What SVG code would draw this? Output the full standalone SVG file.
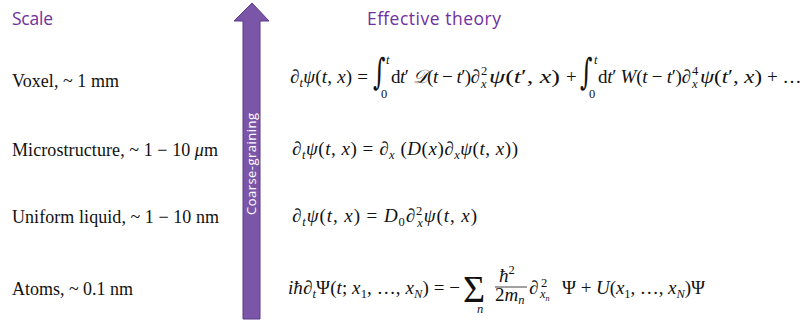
<svg xmlns="http://www.w3.org/2000/svg" width="807" height="323" viewBox="0 0 807 323">
<style>
.head{font-family:"Open Sans","Liberation Sans",sans-serif;font-size:17.5px;fill:#7030a0}
.lab{font-family:"Liberation Serif","DejaVu Serif",serif;font-size:18px;fill:#111}
.eq{font-family:"Liberation Serif","DejaVu Serif",serif;font-size:19px;fill:#111}
.i{font-style:italic}
.s{font-size:12.5px}
.int{font-family:"DejaVu Serif","Liberation Serif",serif;font-size:24px;fill:#111}
.sum{font-family:"Liberation Serif","DejaVu Serif",serif;font-size:38px;fill:#111}
.arrowtxt{font-family:"Open Sans","Liberation Sans",sans-serif;font-size:13px;fill:#fff}
</style>
<rect width="807" height="323" fill="#fff"/>
<g id="heading-scale"><text class="head" x="12" y="25" textLength="41">Scale</text></g>
<g id="heading-theory"><text class="head" x="367" y="25" textLength="134">Effective theory</text></g>
<g id="arrow">
<polygon points="252,3 269,21 260,21 260,319 243,319 243,21 234,21" fill="#7b55a8" stroke="#5b3a8a" stroke-width="1"/>
<text class="arrowtxt" transform="translate(256,164) rotate(-90)" text-anchor="middle" textLength="102">Coarse-graining</text>
</g>
<g id="scale-voxel"><text class="lab" x="12" y="87" textLength="107">Voxel, ~ 1 mm</text></g>
<g id="scale-micro"><text class="lab" x="12" y="156" textLength="206">Microstructure, ~ 1 − 10 <tspan class="i">μ</tspan>m</text></g>
<g id="scale-liquid"><text class="lab" x="12" y="223" textLength="207">Uniform liquid, ~ 1 − 10 nm</text></g>
<g id="scale-atoms"><text class="lab" x="12" y="295" textLength="121">Atoms, ~ 0.1 nm</text></g>
<g id="eq-voxel">
<text class="eq" x="290" y="83" textLength="78"><tspan class="i">∂</tspan><tspan class="s i" y="87">t</tspan><tspan class="i" y="83">ψ</tspan>(<tspan class="i">t</tspan>, <tspan class="i">x</tspan>) =</text>
<text class="int" transform="translate(373,84) scale(1,1.5)">∫</text>
<text class="eq s i" x="386" y="64">t</text>
<text class="eq s" x="381" y="98">0</text>
<text class="eq" x="391" y="83" textLength="89">d<tspan class="i">t</tspan>′ <tspan class="i">𝒟</tspan>(<tspan class="i">t</tspan> − <tspan class="i">t</tspan>′)<tspan class="i">∂</tspan></text>
<text class="eq s" x="481" y="75">2</text>
<text class="eq s i" x="481" y="88">x</text>
<text class="eq" x="489" y="83" textLength="71" lengthAdjust="spacingAndGlyphs"><tspan class="i">ψ</tspan>(<tspan class="i">t</tspan>′, <tspan class="i">x</tspan>)</text>
<text class="eq" x="566" y="83">+</text>
<text class="int" transform="translate(580,84) scale(1,1.5)">∫</text>
<text class="eq s i" x="594" y="64">t</text>
<text class="eq s" x="589" y="98">0</text>
<text class="eq" x="598" y="83" textLength="93">d<tspan class="i">t</tspan>′ <tspan class="i">W</tspan>(<tspan class="i">t</tspan> − <tspan class="i">t</tspan>′)<tspan class="i">∂</tspan></text>
<text class="eq s" x="692" y="75">4</text>
<text class="eq s i" x="692" y="88">x</text>
<text class="eq" x="700" y="83" textLength="62" lengthAdjust="spacingAndGlyphs"><tspan class="i">ψ</tspan>(<tspan class="i">t</tspan>′, <tspan class="i">x</tspan>)</text>
<text class="eq" x="767" y="83">+ …</text>
</g>
<g id="eq-micro">
<text class="eq" x="292" y="155" textLength="226"><tspan class="i">∂</tspan><tspan class="s i" y="159">t</tspan><tspan class="i" y="155">ψ</tspan>(<tspan class="i">t</tspan>, <tspan class="i">x</tspan>) = <tspan class="i">∂</tspan><tspan class="s i" y="159">x</tspan><tspan y="155"> (</tspan><tspan class="i">D</tspan>(<tspan class="i">x</tspan>)<tspan class="i">∂</tspan><tspan class="s i" y="159">x</tspan><tspan class="i" y="155">ψ</tspan>(<tspan class="i">t</tspan>, <tspan class="i">x</tspan>))</text>
</g>
<g id="eq-liquid">
<text class="eq" x="292" y="222" textLength="185"><tspan class="i">∂</tspan><tspan class="s i" y="226">t</tspan><tspan class="i" y="222">ψ</tspan>(<tspan class="i">t</tspan>, <tspan class="i">x</tspan>) = <tspan class="i">D</tspan><tspan class="s" y="226">0</tspan><tspan class="i" y="222">∂</tspan><tspan class="s" y="215">2</tspan><tspan class="s i" dx="-6" y="227">x</tspan><tspan class="i" y="222">ψ</tspan>(<tspan class="i">t</tspan>, <tspan class="i">x</tspan>)</text>
</g>
<g id="eq-atoms">
<text class="eq" x="288" y="294" textLength="172"><tspan class="i">iħ∂</tspan><tspan class="s i" y="298">t</tspan><tspan y="294">Ψ(</tspan><tspan class="i">t</tspan>; <tspan class="i">x</tspan><tspan class="s" y="298">1</tspan><tspan y="294">, …, </tspan><tspan class="i">x</tspan><tspan class="s i" y="298">N</tspan><tspan y="294">) = −</tspan></text>
<text class="sum" x="463" y="302">Σ</text>
<text class="eq s i" x="477" y="313">n</text>
<text class="eq" x="499" y="282"><tspan class="i">ħ</tspan><tspan class="s" y="274">2</tspan></text>
<line x1="495" y1="287" x2="527" y2="287" stroke="#111" stroke-width="0.8"/>
<text class="eq" x="495" y="301">2<tspan class="i">m</tspan><tspan class="s i" y="304">n</tspan></text>
<text class="eq" x="529" y="294"><tspan class="i">∂</tspan></text>
<text class="eq s" x="541" y="287">2</text>
<text class="eq s i" x="540" y="298">x<tspan style="font-size:8px" y="301">n</tspan></text>
<text class="eq" x="562" y="294" textLength="143">Ψ + <tspan class="i">U</tspan>(<tspan class="i">x</tspan><tspan class="s" y="298">1</tspan><tspan y="294">, …, </tspan><tspan class="i">x</tspan><tspan class="s i" y="298">N</tspan><tspan y="294">)Ψ</tspan></text>
</g>
</svg>
